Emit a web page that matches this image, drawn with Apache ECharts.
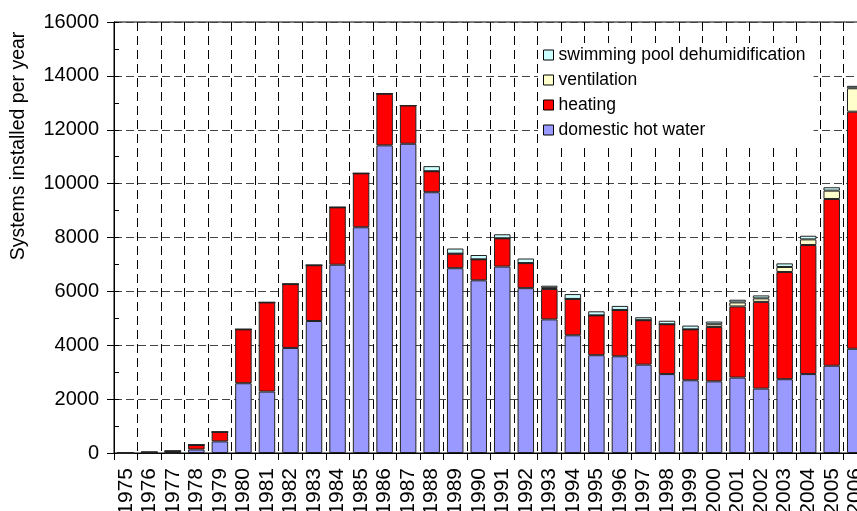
<!DOCTYPE html>
<html>
<head>
<meta charset="utf-8">
<script src="https://cdn.jsdelivr.net/npm/echarts@6/dist/echarts.min.js"></script>
<style>
  html, body { margin: 0; padding: 0; background: #fff; }
  #chart { width: 857px; height: 511px; }
</style>
</head>
<body>
<div id="chart"></div>
<script>
// 年份
const years = ['1975','1976','1977','1978','1979','1980','1981','1982','1983','1984','1985',
  '1986','1987','1988','1989','1990','1991','1992','1993','1994','1995','1996','1997','1998',
  '1999','2000','2001','2002','2003','2004','2005','2006']

// 各用途每年安装数量
const hotWater = [0, 10, 0, 130, 430, 2590, 2280, 3900, 4900, 6990, 8380,
  11420, 11480, 9680, 6860, 6410, 6920, 6120, 4960, 4370, 3630, 3590, 3280, 2930,
  2700, 2660, 2800, 2390, 2740, 2930, 3240, 3870]
const heating = [0, 20, 70, 170, 350, 2000, 3310, 2370, 2070, 2130, 2000,
  1920, 1420, 780, 540, 780, 1050, 930, 1130, 1350, 1480, 1720, 1650, 1850,
  1890, 2020, 2640, 3220, 3980, 4790, 6190, 8800]
const ventilation = [0, 0, 0, 0, 0, 0, 0, 0, 0, 0, 0,
  0, 0, 0, 0, 0, 0, 0, 40, 0, 0, 0, 0, 0,
  0, 100, 150, 130, 185, 210, 310, 870]
const pool = [0, 0, 0, 0, 0, 0, 0, 0, 0, 0, 0,
  0, 0, 190, 190, 160, 150, 170, 80, 180, 150, 150, 110, 130,
  140, 100, 100, 110, 135, 135, 125, 90]

const yTicks = { min: 0, max: 16000, interval: 2000 }

const chart = echarts.init(document.getElementById('chart'))

const FONT = 'Liberation Sans, Arial, sans-serif'

function barSeries(name, data, color) {
  return {
    name: name,
    type: 'bar',
    stack: 'total',
    data: data,
    barWidth: '70%',
    itemStyle: { color: color, borderColor: '#222', borderWidth: 1 },
    emphasis: { disabled: true }
  }
}

const option = {
  animation: false,
  backgroundColor: '#fff',
  textStyle: { fontFamily: FONT },
  grid: {
    left: 114,
    top: 22,
    width: 753,
    height: 431,
    outerBoundsMode: 'none',
    show: true,
    borderColor: '#000',
    borderWidth: 1,
    backgroundColor: 'transparent'
  },
  legend: {
    orient: 'vertical',
    left: 538,
    top: 43,
    padding: [3, 8, 4, 5],
    backgroundColor: '#fff',
    itemWidth: 10,
    itemHeight: 10,
    itemGap: 7,
    icon: 'rect',
    itemStyle: { borderColor: '#000', borderWidth: 1 },
    textStyle: { fontFamily: FONT, fontSize: 17.5, lineHeight: 18, color: '#000' },
    data: ['swimming pool dehumidification', 'ventilation', 'heating', 'domestic hot water']
  },
  // 纵轴标题（偏上放置）
  graphic: [{
    type: 'text',
    x: 19,
    y: 146,
    rotation: Math.PI / 2,
    style: {
      text: 'Systems installed per year',
      fill: '#000',
      font: '19.5px ' + FONT,
      align: 'center',
      verticalAlign: 'middle'
    }
  }],
  xAxis: {
    type: 'category',
    data: years,
    boundaryGap: true,
    axisLine: { lineStyle: { color: '#000', width: 1 } },
    axisTick: { show: true, length: 7, lineStyle: { color: '#000' } },
    axisLabel: { rotate: 90, interval: 0, margin: 15, fontSize: 21, color: '#000', fontFamily: FONT },
    splitLine: { show: true, interval: 0, lineStyle: { color: '#000', type: [9, 5], width: 1 } }
  },
  yAxis: [
    {
      type: 'value',
      min: yTicks.min,
      max: yTicks.max,
      interval: yTicks.interval,
      axisLine: { show: true, lineStyle: { color: '#000', width: 1 } },
      axisTick: { show: true, length: 7, lineStyle: { color: '#000' } },
      axisLabel: { margin: 15, fontSize: 20, color: '#000', fontFamily: FONT, formatter: v => String(v) },
      splitLine: { show: true, lineStyle: { color: '#444', type: [8, 4], width: 1 } }
    },
    {
      // 内侧小刻度
      type: 'value',
      position: 'left',
      min: yTicks.min,
      max: yTicks.max,
      interval: 1000,
      axisLine: { show: false },
      axisTick: { show: true, inside: true, length: 5, lineStyle: { color: '#000' } },
      axisLabel: { show: false },
      splitLine: { show: false }
    }
  ],
  series: [
    barSeries('domestic hot water', hotWater, '#9999ff'),
    barSeries('heating', heating, '#ff0000'),
    barSeries('ventilation', ventilation, '#ffffcc'),
    barSeries('swimming pool dehumidification', pool, '#ccffff')
  ]
}

chart.setOption(option)
</script>
</body>
</html>
